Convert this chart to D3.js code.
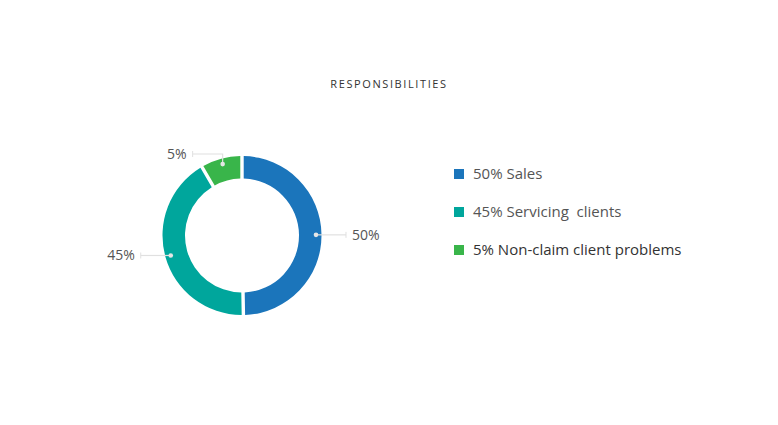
<!DOCTYPE html>
<html>
<head>
<meta charset="utf-8">
<script src="https://cdn.jsdelivr.net/npm/d3@7"></script>
<style>
  html, body { margin: 0; padding: 0; background: #fff; }
  svg { display: block; font-family: "Open Sans", sans-serif; }
  text { white-space: pre; }
</style>
</head>
<body>
<svg id="chart" width="778" height="425"></svg>
<script>
// Data
const categories = ["Sales", "Servicing  clients", "Non-claim client problems"];
const percentLabels = [50, 45, 5];          // printed percentages
const arcWeights = [50, 42, 8];             // slice sizes as drawn in the picture
const colors = ["#1b75bb", "#00a69c", "#39b54a"];
const title = "RESPONSIBILITIES";

const svg = d3.select("#chart");
const cx = 242, cy = 235.5, R = 79.5, r = 57;

svg.append("text")
  .attr("x", 389).attr("y", 88)
  .attr("text-anchor", "middle")
  .attr("font-size", 11).attr("font-weight", 500)
  .attr("letter-spacing", "1.6px")
  .attr("fill", "#333")
  .text(title);

const data = categories.map((c, i) => ({ name: c, pct: percentLabels[i], w: arcWeights[i], color: colors[i] }));

const pie = d3.pie().value(d => d.w).sort(null).padAngle(0.035);
const arc = d3.arc().innerRadius(r).outerRadius(R);
const arcs = pie(data);

const g = svg.append("g").attr("transform", `translate(${cx},${cy})`);
g.selectAll("path.slice").data(arcs).enter().append("path")
  .attr("class", "slice")
  .attr("d", arc)
  .attr("fill", d => d.data.color);

// leader lines and labels
const dotR = 74, lead = 30;
arcs.forEach(a => {
  const mid = (a.startAngle + a.endAngle) / 2;
  const x = Math.sin(mid) * dotR, y = -Math.cos(mid) * dotR;
  const side = x >= 0 ? 1 : -1;
  let pts;
  const nearTop = Math.cos(mid) > 0.85;
  if (nearTop) {
    const yTop = -R - 2;
    pts = [[x, y], [x, yTop], [x + side * lead, yTop]];
  } else {
    pts = [[x, y], [x + side * lead, y]];
  }
  const end = pts[pts.length - 1];
  g.append("path")
    .attr("d", d3.line()(pts))
    .attr("fill", "none").attr("stroke", "#e0e0e0").attr("stroke-width", 1.2);
  g.append("line")
    .attr("x1", end[0]).attr("x2", end[0])
    .attr("y1", end[1] - 3).attr("y2", end[1] + 3)
    .attr("stroke", "#e0e0e0").attr("stroke-width", 1);
  g.append("circle").attr("cx", x).attr("cy", y).attr("r", 2.3).attr("fill", "#e6e6e6");
  g.append("text")
    .attr("x", end[0] + side * 6).attr("y", end[1] + 5)
    .attr("text-anchor", side > 0 ? "start" : "end")
    .attr("font-size", 14).attr("fill", "#555")
    .text(a.data.pct + "%");
});

// legend
const ly = d3.scalePoint().domain(categories).range([174, 250]);
const leg = svg.append("g");
data.forEach((d, i) => {
  const y = ly(d.name);
  leg.append("rect").attr("x", 454).attr("y", y - 5).attr("width", 10).attr("height", 10).attr("fill", d.color);
  leg.append("text").attr("x", 473).attr("y", y + 5)
    .attr("font-size", 15)
    .attr("fill", i === 2 ? "#333" : "#555")
    .text(d.pct + "% " + d.name);
});
</script>
</body>
</html>
